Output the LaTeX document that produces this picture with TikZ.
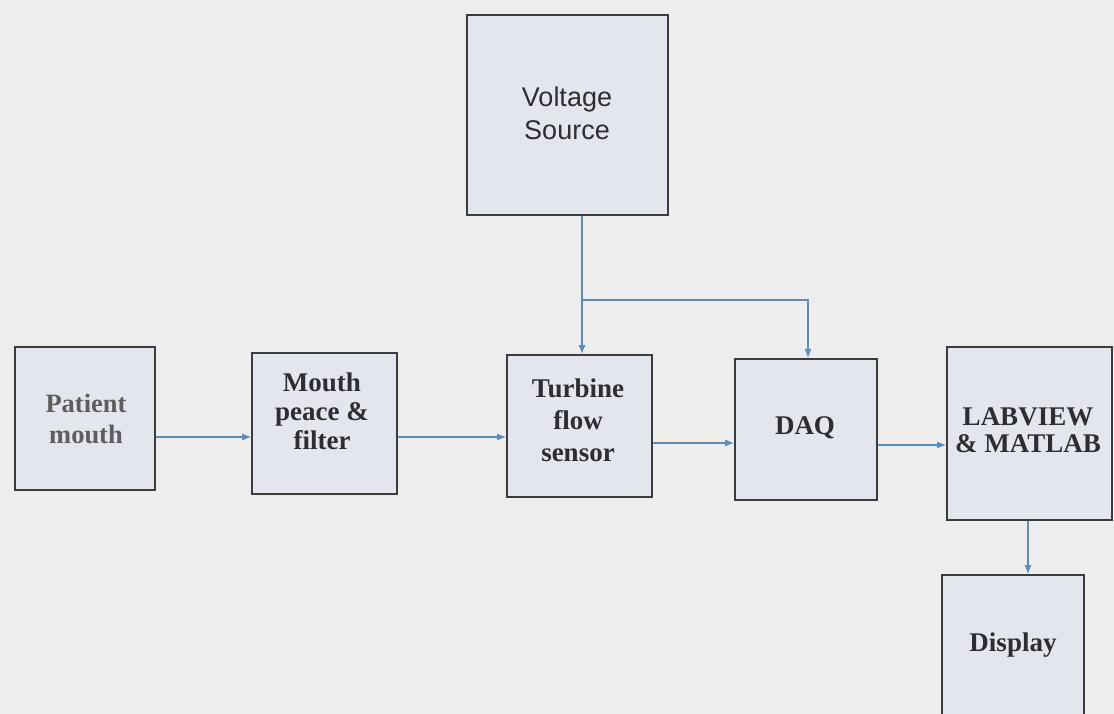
\documentclass[tikz,border=0pt]{standalone}
\usepackage{fontspec}
\setmainfont{Liberation Serif}
\newfontfamily\arialfont{Liberation Sans}
\usetikzlibrary{arrows.meta}
\definecolor{pagebg}{HTML}{EDEDED}
\definecolor{boxfill}{HTML}{E3E7ED}
\definecolor{boxline}{HTML}{3C3C3C}
\definecolor{conncol}{HTML}{5B8DBB}
\definecolor{txtcol}{HTML}{2E2E2E}
\definecolor{fadedtxt}{HTML}{5E5E5E}
\tikzset{
  blockbox/.style={draw=boxline, line width=1.6pt, fill=boxfill, inner sep=0pt},
  blocktxt/.style={text=txtcol, align=center, inner sep=0pt,
    font=\bfseries\fontsize{27}{30}\selectfont},
  conn/.style={draw=conncol, line width=1.2pt},
  arr/.style={conn, -{Latex[length=9pt,width=7pt]}}
}
\begin{document}
\begin{tikzpicture}[x=1pt,y=-1pt]
\useasboundingbox (0,0) rectangle (1114,714);
\fill[pagebg] (0,0) rectangle (1114,714);
\clip (0,0) rectangle (1114,714);

% boxes
\node[blockbox, minimum width=201pt, minimum height=200pt] (vs) at (567.5,115) {};
\node[blockbox, minimum width=140pt, minimum height=143pt] (pm) at (85,418.5) {};
\node[blockbox, minimum width=145pt, minimum height=141pt] (mp) at (324.5,423.5) {};
\node[blockbox, minimum width=145pt, minimum height=142pt] (tf) at (579.5,426) {};
\node[blockbox, minimum width=142pt, minimum height=141pt] (daq) at (806,429.5) {};
\node[blockbox, minimum width=165pt, minimum height=173pt] (lm) at (1029.5,433.5) {};
\node[blockbox, minimum width=142pt, minimum height=165pt] (di) at (1013,657.5) {};

% texts
\node[blocktxt, font=\arialfont\fontsize{27}{33}\selectfont] (vst) at (567,113) {Voltage\\Source};
\node[blocktxt, text=fadedtxt, font=\bfseries\fontsize{26.5}{31}\selectfont] (pmt) at (86,419) {Patient\\mouth};
\node[blocktxt, font=\bfseries\fontsize{27}{29}\selectfont] (mpt) at (322,411) {Mouth\\peace \&\\filter};
\node[blocktxt, font=\bfseries\fontsize{27}{32}\selectfont] (tft) at (578,420) {Turbine\\flow\\sensor};
\node[blocktxt] (daqt) at (805,428) {DAQ};
\node[blocktxt, font=\bfseries\fontsize{27}{27}\selectfont] (lmt) at (1028,430) {LABVIEW\\\& MATLAB};
\node[blocktxt] (dit) at (1013,645) {Display};

% connector helpers
\coordinate (j1) at (582,300);
\coordinate (j2) at (808,300);
\coordinate (r1) at (0,437);
\coordinate (r2) at (0,443);
\coordinate (r3) at (0,445);
\coordinate (d1) at (1028,0);

% connectors
\draw[conn] (vs.south -| j1) -- (j1);
\draw[arr] (j1) -- (tf.north -| j1);
\draw[arr] (j1) -- (j2) -- (daq.north -| j2);
\draw[arr] (pm.east |- r1) -- (mp.west |- r1);
\draw[arr] (mp.east |- r1) -- (tf.west |- r1);
\draw[arr] (tf.east |- r2) -- (daq.west |- r2);
\draw[arr] (daq.east |- r3) -- (lm.west |- r3);
\draw[arr] (lm.south -| d1) -- (di.north -| d1);
\end{tikzpicture}
\end{document}
